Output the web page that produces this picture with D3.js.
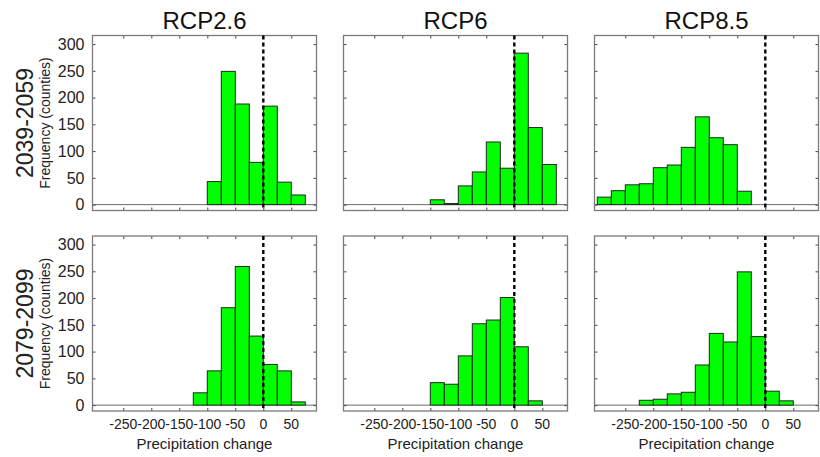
<!DOCTYPE html>
<html>
<head>
<meta charset="utf-8">
<script src="https://cdn.jsdelivr.net/npm/d3@7/dist/d3.min.js"></script>
<style>
  html, body { margin: 0; padding: 0; background: #fff; }
  svg { display: block; font-family: "Liberation Sans", Arial, sans-serif; }
</style>
</head>
<body>
<svg id="chart" width="820" height="457"></svg>
<script>
// ---- Data ----
const scenarios = ["RCP2.6", "RCP6", "RCP8.5"];
const periods = ["2039-2059", "2079-2099"];
const binWidth = 25;
const yTicks = [0, 50, 100, 150, 200, 250, 300];
const xTicks = [-250, -200, -150, -100, -50, 0, 50];

// first bin start (precipitation change) and counts per bin
const rcp26_2039_start = -100;
const rcp26_2039 = [43, 249, 188, 79, 184, 42, 18];
const rcp6_2039_start = -150;
const rcp6_2039 = [9, 2, 35, 61, 117, 68, 283, 144, 75];
const rcp85_2039_start = -300;
const rcp85_2039 = [14, 26, 37, 39, 69, 74, 107, 164, 125, 112, 25];
const rcp26_2079_start = -125;
const rcp26_2079 = [23, 64, 182, 259, 129, 76, 64, 6];
const rcp6_2079_start = -150;
const rcp6_2079 = [42, 39, 92, 152, 159, 201, 109, 8];
const rcp85_2079_start = -225;
const rcp85_2079 = [9, 11, 21, 24, 75, 134, 118, 249, 128, 26, 8];

const panels = [
  [ [rcp26_2039_start, rcp26_2039], [rcp6_2039_start, rcp6_2039], [rcp85_2039_start, rcp85_2039] ],
  [ [rcp26_2079_start, rcp26_2079], [rcp6_2079_start, rcp6_2079], [rcp85_2079_start, rcp85_2079] ]
];

// ---- Layout ----
const svg = d3.select("#chart");
const colLefts = [92.5, 343.5, 594.5];
const rowTops = [35.5, 236];
const pw = 224, ph = 175;
const frameColor = "#7a7a7a";
const textColor = "#222";

const x = d3.scaleLinear().domain([-305, 95]).range([0, pw]);
const y = d3.scaleLinear().domain([-11, 316]).range([ph, 0]);

periods.forEach((period, r) => {
  scenarios.forEach((sc, c) => {
    const g = svg.append("g").attr("transform", `translate(${colLefts[c]},${rowTops[r]})`);
    const [start, counts] = panels[r][c];
    const bins = counts.map((v, i) => ({ x0: start + i * binWidth, x1: start + (i + 1) * binWidth, v }));

    // baseline at zero
    g.append("line")
      .attr("x1", 0).attr("x2", pw)
      .attr("y1", y(0)).attr("y2", y(0))
      .attr("stroke", "#6a6a6a").attr("stroke-width", 1);

    // bars
    g.selectAll("rect.bar").data(bins).enter().append("rect")
      .attr("class", "bar")
      .attr("x", d => x(d.x0))
      .attr("width", d => x(d.x1) - x(d.x0))
      .attr("y", d => y(d.v))
      .attr("height", d => y(0) - y(d.v))
      .attr("fill", "#00ff00")
      .attr("stroke", "#1e2a1e")
      .attr("stroke-width", 1);

    // inner ticks (all four sides)
    const tl = 3;
    const yAxisL = d3.axisLeft(y).tickValues(yTicks).tickSize(-tl).tickFormat("");
    const yAxisR = d3.axisRight(y).tickValues(yTicks).tickSize(-tl).tickFormat("");
    const xAxisB = d3.axisBottom(x).tickValues(xTicks).tickSize(-tl).tickFormat("");
    const xAxisT = d3.axisTop(x).tickValues(xTicks).tickSize(-tl).tickFormat("");
    [[yAxisL, `translate(0,0)`], [yAxisR, `translate(${pw},0)`],
     [xAxisB, `translate(0,${ph})`], [xAxisT, `translate(0,0)`]].forEach(([ax, tr]) => {
      const a = g.append("g").attr("transform", tr).call(ax);
      a.select(".domain").remove();
      a.selectAll(".tick line").attr("stroke", "#444").attr("stroke-width", 1);
    });

    // frame
    g.append("rect")
      .attr("x", 0).attr("y", 0).attr("width", pw).attr("height", ph)
      .attr("fill", "none").attr("stroke", frameColor).attr("stroke-width", 1.3);

    // dashed zero line
    g.append("line")
      .attr("x1", x(0)).attr("x2", x(0))
      .attr("y1", 0).attr("y2", ph)
      .attr("stroke", "#000").attr("stroke-width", 2.4)
      .attr("stroke-dasharray", "4,3");

    // y tick labels (left column)
    if (c === 0) {
      g.selectAll("text.ylab").data(yTicks).enter().append("text")
        .attr("class", "ylab")
        .attr("x", -8).attr("y", d => y(d))
        .attr("dy", "0.36em")
        .attr("text-anchor", "end")
        .attr("font-size", 16)
        .attr("fill", textColor)
        .text(d => d);
      g.append("text")
        .attr("transform", `translate(-43,${ph / 2}) rotate(-90)`)
        .attr("text-anchor", "middle")
        .attr("font-size", 14)
        .attr("fill", textColor)
        .text("Frequency (counties)");
      g.append("text")
        .attr("transform", `translate(-60,${ph / 2}) rotate(-90)`)
        .attr("text-anchor", "middle")
        .attr("font-size", 23)
        .attr("fill", textColor)
        .text(period);
    }

    // x tick labels (bottom row)
    if (r === 1) {
      g.selectAll("text.xlab").data(xTicks).enter().append("text")
        .attr("class", "xlab")
        .attr("x", d => x(d)).attr("y", ph + 18)
        .attr("text-anchor", "middle")
        .attr("font-size", 14)
        .attr("fill", textColor)
        .text(d => d);
      g.append("text")
        .attr("x", pw / 2).attr("y", ph + 37.5)
        .attr("text-anchor", "middle")
        .attr("font-size", 15)
        .attr("fill", textColor)
        .text("Precipitation change");
    }

    // column titles (top row)
    if (r === 0) {
      g.append("text")
        .attr("x", pw / 2).attr("y", -7)
        .attr("text-anchor", "middle")
        .attr("font-size", 24)
        .attr("fill", "#111")
        .text(sc);
    }
  });
});
</script>
</body>
</html>
